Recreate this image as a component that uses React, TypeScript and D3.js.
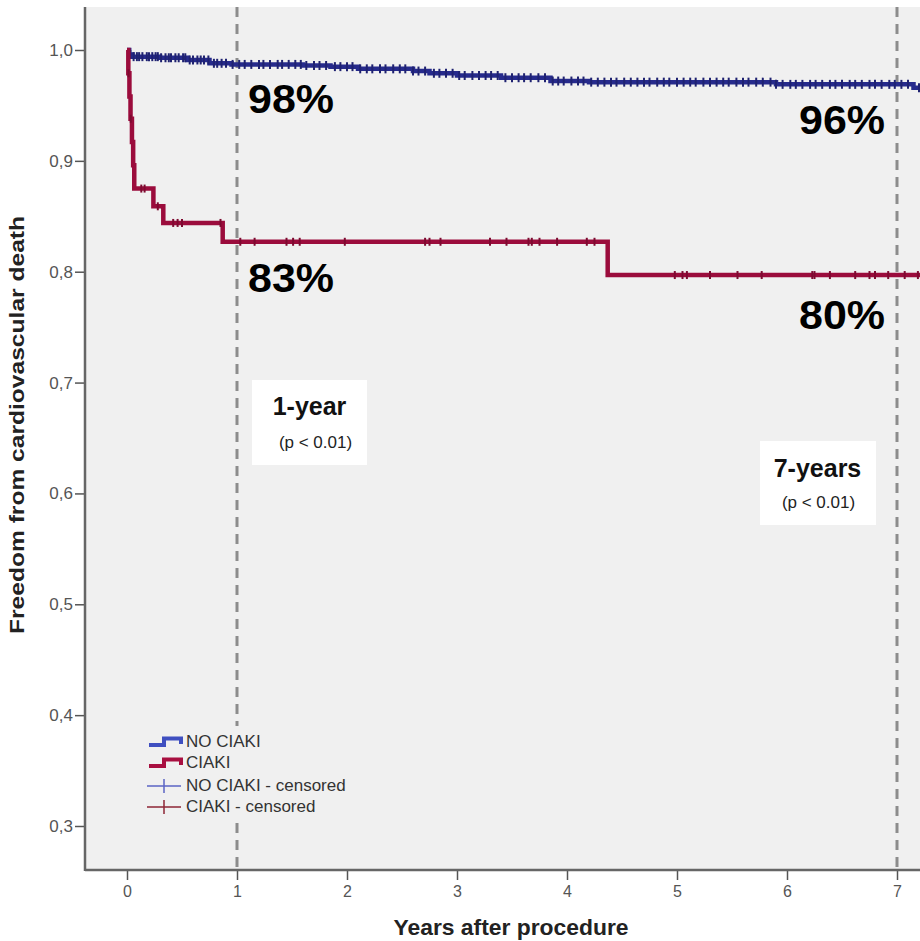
import React, { useRef, useEffect } from 'react';
import * as d3 from 'd3';

// Kaplan-Meier steps
const blueTimes = [0, 0.02, 0.05, 0.3, 0.55, 0.75, 0.95, 1.6, 1.85, 2.1, 2.6, 2.75, 3.0, 3.4, 3.85, 4.2, 5.9, 7.15, 7.4];
const blueSurv = [1.0, 0.996, 0.994, 0.993, 0.991, 0.988, 0.987, 0.986, 0.985, 0.983, 0.981, 0.979, 0.977, 0.975, 0.972, 0.971, 0.969, 0.966, 0.966];

const redTimes = [0, 0.012, 0.022, 0.032, 0.045, 0.056, 0.066, 0.24, 0.33, 0.87, 4.37, 7.4];
const redSurv = [1.0, 0.979, 0.958, 0.938, 0.917, 0.896, 0.875, 0.859, 0.844, 0.827, 0.797, 0.797];

// censoring times
const blueCensor = [0.03, 0.06, 0.09, 0.11, 0.14, 0.18, 0.2, 0.23, 0.26, 0.28, 0.31, 0.35, 0.38, 0.4, 0.44, 0.47, 0.51, 0.53, 0.57, 0.6, 0.64, 0.67, 0.7, 0.74, 0.79, 0.82, 0.86, 0.9, 0.96, 1.02, 1.07, 1.13, 1.2, 1.24, 1.3, 1.37, 1.41, 1.47, 1.53, 1.58, 1.63, 1.7, 1.75, 1.81, 1.89, 1.94, 2.0, 2.05, 2.12, 2.18, 2.23, 2.3, 2.35, 2.42, 2.48, 2.53, 2.6, 2.65, 2.71, 2.79, 2.84, 2.9, 2.96, 3.02, 3.07, 3.14, 3.2, 3.26, 3.31, 3.37, 3.44, 3.5, 3.56, 3.61, 3.67, 3.74, 3.8, 3.87, 3.92, 3.97, 4.04, 4.1, 4.15, 4.22, 4.28, 4.34, 4.4, 4.45, 4.52, 4.58, 4.64, 4.7, 4.75, 4.82, 4.88, 4.93, 5.0, 5.06, 5.12, 5.17, 5.24, 5.3, 5.36, 5.42, 5.47, 5.54, 5.6, 5.65, 5.72, 5.78, 5.85, 5.9, 5.96, 6.03, 6.08, 6.14, 6.21, 6.26, 6.32, 6.39, 6.44, 6.5, 6.57, 6.62, 6.68, 6.75, 6.8, 6.86, 6.93, 6.98, 7.04, 7.1, 7.2, 7.28];
const redCensor = [0.014, 0.034, 0.13, 0.16, 0.28, 0.42, 0.46, 0.5, 0.85, 1.03, 1.16, 1.45, 1.51, 1.57, 1.98, 2.71, 2.75, 2.85, 3.3, 3.45, 3.65, 3.68, 3.75, 3.91, 4.18, 4.25, 4.98, 5.05, 5.09, 5.3, 5.55, 5.77, 6.23, 6.25, 6.39, 6.62, 6.75, 6.8, 6.92, 7.07, 7.19];

const xTicks = [0, 1, 2, 3, 4, 5, 6, 7];
const yTicks = [0.3, 0.4, 0.5, 0.6, 0.7, 0.8, 0.9, 1.0];
const markerYears = [1, 7];

const legendLabels = ['NO CIAKI', 'CIAKI', 'NO CIAKI - censored', 'CIAKI - censored'];

const FONT = '"Liberation Sans", Arial, Helvetica, sans-serif';

export default function App() {
  const svgRef = useRef<SVGSVGElement>(null);

  useEffect(() => {
    const width = 920;
    const height = 941;
    const plotLeft = 85;
    const plotTop = 7;
    const plotBottom = 870;
    const plotRight = 960;

    const x = d3.scaleLinear().domain([0, 7]).range([127, 897]);
    const y = d3.scaleLinear().domain([0.3, 1.0]).range([826, 50]);

    const svg = d3.select(svgRef.current)
      .attr('width', width)
      .attr('height', height)
      .attr('viewBox', [0, 0, width, height].join(' '));
    svg.selectAll('*').remove();

    svg.append('rect').attr('width', width).attr('height', height).attr('fill', '#fff');
    svg.append('rect')
      .attr('x', plotLeft).attr('y', plotTop)
      .attr('width', plotRight - plotLeft).attr('height', plotBottom - plotTop)
      .attr('fill', '#f0f0f0');

    // dashed reference lines
    svg.append('g')
      .selectAll('line')
      .data(markerYears)
      .join('line')
        .attr('x1', d => x(d)).attr('x2', d => x(d))
        .attr('y1', plotTop).attr('y2', plotBottom)
        .attr('stroke', '#8c8c8c')
        .attr('stroke-width', 3)
        .attr('stroke-dasharray', '10,7');

    const step = d3.line<[number, number]>()
      .x(d => x(d[0]))
      .y(d => y(d[1]))
      .curve(d3.curveStepAfter);

    const survAt = (times: number[], surv: number[], t: number) => {
      const i = d3.bisectRight(times, t) - 1;
      return surv[Math.max(0, i)];
    };

    const groups = [
      { times: blueTimes, surv: blueSurv, censor: blueCensor, color: '#262a8c', width: 4.5, tick: 4.5 },
      { times: redTimes, surv: redSurv, censor: redCensor, color: '#9b0c3c', width: 4.5, tick: 4 },
    ];

    groups.forEach(g => {
      svg.append('path')
        .attr('d', step(g.times.map((t, i) => [t, g.surv[i]] as [number, number])))
        .attr('fill', 'none')
        .attr('stroke', g.color)
        .attr('stroke-width', g.width)
        .attr('stroke-linejoin', 'miter');

      svg.append('g')
        .selectAll('line')
        .data(g.censor)
        .join('line')
          .attr('x1', d => x(d)).attr('x2', d => x(d))
          .attr('y1', d => y(survAt(g.times, g.surv, d)) - g.tick)
          .attr('y2', d => y(survAt(g.times, g.surv, d)) + g.tick)
          .attr('stroke', d3.color(g.color)!.darker(0.6).toString())
          .attr('stroke-width', 2);
    });

    // legend
    const legend = svg.append('g');
    legend.append('rect')
      .attr('x', 144).attr('y', 726).attr('width', 208).attr('height', 96)
      .attr('fill', '#f0f0f0');
    const rowY = [747, 768, 791, 812];
    const swatchColors = ['#3f4fc0', '#a80f40'];
    const censColors = ['#5b64c4', '#8e2636'];
    legendLabels.forEach((label, i) => {
      const by = rowY[i];
      if (i < 2) {
        legend.append('path')
          .attr('d', `M149,${by - 2}H164V${by - 8.5}H181V${by - 3}`)
          .attr('fill', 'none')
          .attr('stroke', swatchColors[i])
          .attr('stroke-width', 4);
      } else {
        const c = censColors[i - 2];
        legend.append('line')
          .attr('x1', 147).attr('x2', 181).attr('y1', by - 5).attr('y2', by - 5)
          .attr('stroke', c).attr('stroke-width', 1.3);
        legend.append('line')
          .attr('x1', 164).attr('x2', 164).attr('y1', by - 12).attr('y2', by + 2)
          .attr('stroke', c).attr('stroke-width', 1.5);
      }
      legend.append('text')
        .attr('x', 186).attr('y', by)
        .attr('font-family', FONT).attr('font-size', 17)
        .attr('fill', '#333')
        .text(label);
    });

    // axes
    const fmt = (d: number) => d3.format('.1f')(d).replace('.', ',');
    svg.append('g')
      .attr('transform', `translate(${plotLeft},0)`)
      .call(d3.axisLeft(y).tickValues(yTicks).tickSize(10).tickPadding(2).tickFormat(d => fmt(d as number)))
      .call(g => g.select('.domain').remove())
      .call(g => g.selectAll('line').attr('stroke', '#555').attr('stroke-width', 1.5))
      .call(g => g.selectAll('text').attr('font-family', FONT).attr('font-size', 17).attr('fill', '#555'));

    svg.append('g')
      .attr('transform', `translate(0,${plotBottom})`)
      .call(d3.axisBottom(x).tickValues(xTicks).tickSize(10).tickPadding(6).tickFormat(d3.format('d')))
      .call(g => g.select('.domain').remove())
      .call(g => g.selectAll('line').attr('stroke', '#555').attr('stroke-width', 1.5))
      .call(g => g.selectAll('text').attr('font-family', FONT).attr('font-size', 16).attr('fill', '#555'));

    svg.append('line')
      .attr('x1', plotLeft).attr('x2', plotLeft).attr('y1', plotTop).attr('y2', plotBottom + 1)
      .attr('stroke', '#666').attr('stroke-width', 2.5);
    svg.append('line')
      .attr('x1', plotLeft).attr('x2', plotRight).attr('y1', plotBottom).attr('y2', plotBottom)
      .attr('stroke', '#666').attr('stroke-width', 2.5);

    // axis titles
    svg.append('text')
      .attr('x', 511).attr('y', 935)
      .attr('text-anchor', 'middle')
      .attr('font-family', FONT).attr('font-weight', 'bold').attr('font-size', 22)
      .attr('textLength', 235).attr('lengthAdjust', 'spacingAndGlyphs')
      .attr('fill', '#222')
      .text('Years after procedure');

    svg.append('text')
      .attr('transform', 'translate(24,425) rotate(-90)')
      .attr('text-anchor', 'middle')
      .attr('font-family', FONT).attr('font-weight', 'bold').attr('font-size', 20)
      .attr('textLength', 418).attr('lengthAdjust', 'spacingAndGlyphs')
      .attr('fill', '#222')
      .text('Freedom from cardiovascular death');

    // annotation boxes
    const boxes = [
      { x: 252, y: 380, w: 115, h: 85, title: '1-year', tx: 309.5, ty: 415, px: 315.5, py: 448 },
      { x: 760, y: 441, w: 116, h: 84, title: '7-years', tx: 817.5, ty: 477, px: 818.5, py: 508 },
    ];
    boxes.forEach(b => {
      svg.append('rect').attr('x', b.x).attr('y', b.y).attr('width', b.w).attr('height', b.h).attr('fill', '#fff');
      svg.append('text')
        .attr('x', b.tx).attr('y', b.ty).attr('text-anchor', 'middle')
        .attr('font-family', FONT).attr('font-weight', 'bold').attr('font-size', 25)
        .attr('fill', '#111')
        .text(b.title);
      svg.append('text')
        .attr('x', b.px).attr('y', b.py).attr('text-anchor', 'middle')
        .attr('font-family', FONT).attr('font-size', 17)
        .attr('fill', '#222')
        .text('(p < 0.01)');
    });

    // percentage labels
    const pcts = [
      { label: '98%', x: 248, y: 113 },
      { label: '83%', x: 248, y: 292 },
      { label: '96%', x: 799, y: 134 },
      { label: '80%', x: 799, y: 329 },
    ];
    svg.append('g')
      .selectAll('text')
      .data(pcts)
      .join('text')
        .attr('x', d => d.x).attr('y', d => d.y)
        .attr('font-family', FONT).attr('font-weight', 'bold').attr('font-size', 40)
        .attr('textLength', 86).attr('lengthAdjust', 'spacingAndGlyphs')
        .attr('fill', '#000')
        .text(d => d.label);
  }, []);

  return (
    <div style={{ position: 'absolute', left: 0, top: 0 }}>
      <svg ref={svgRef} style={{ display: 'block' }}></svg>
    </div>
  );
}
